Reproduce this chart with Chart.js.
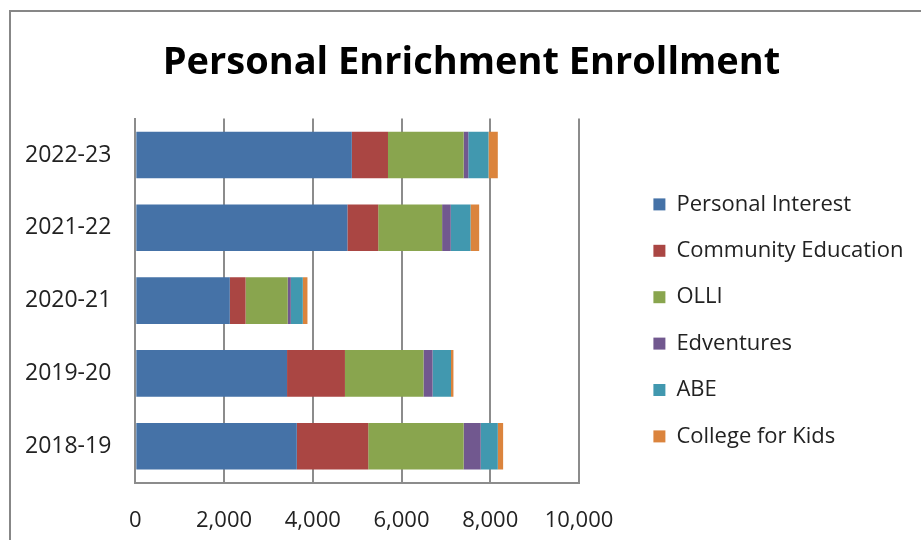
<!DOCTYPE html>
<html>
<head>
<meta charset="utf-8">
<script src="https://cdn.jsdelivr.net/npm/chart.js@4/dist/chart.umd.min.js"></script>
<style>
  html, body { margin: 0; padding: 0; background: #fff; }
  #wrap { position: relative; width: 921px; height: 540px; overflow: hidden; }
  #frame { position: absolute; left: 9px; top: 10px; width: 1000px; height: 1000px; border: 2px solid #878787; box-sizing: border-box; }
  #box { position: absolute; left: 0; top: 0; width: 921px; height: 540px; }
</style>
</head>
<body>
<div id="wrap">
  <div id="frame"></div>
  <div id="box"><canvas id="enrollChart"></canvas></div>
</div>
<script>
// Years, top to bottom as in the picture
var years = ['2022-23', '2021-22', '2020-21', '2019-20', '2018-19'];

// Enrollment per program (same order as years)
var personalInterest   = [4880, 4780, 2130, 3420, 3640];
var communityEducation = [815, 695, 355, 1305, 1610];
var olli               = [1705, 1440, 950, 1770, 2150];
var edventures         = [105, 195, 70, 205, 385];
var abe                = [455, 445, 270, 415, 385];
var collegeForKids     = [210, 195, 105, 55, 120];

var xTicks = [0, 2000, 4000, 6000, 8000, 10000];

var font = 'Open Sans';

// fixed legend column on the right, like the Excel original
var legendBox = {
  id: 'legendBox',
  beforeInit: function(chart) {
    var lg = chart.legend;
    var fit = lg.fit;
    lg.fit = function() {
      fit.call(this);
      this.width = 363;
    };
  },
  afterLayout: function(chart) {
    var lg = chart.legend;
    var h = lg.height;
    lg.left = 629;
    lg.right = lg.left + lg.width;
    lg.top = 169;
    lg.bottom = lg.top + h;
  }
};

var ctx = document.getElementById('enrollChart').getContext('2d');
var enrollChart = new Chart(ctx, {
  type: 'bar',
  data: {
    labels: years,
    datasets: [
      { label: 'Personal Interest', data: personalInterest, backgroundColor: '#4572A7' },
      { label: 'Community Education', data: communityEducation, backgroundColor: '#AA4643' },
      { label: 'OLLI', data: olli, backgroundColor: '#89A54E' },
      { label: 'Edventures', data: edventures, backgroundColor: '#71588F' },
      { label: 'ABE', data: abe, backgroundColor: '#4198AF' },
      { label: 'College for Kids', data: collegeForKids, backgroundColor: '#DB843D' }
    ]
  },
  options: {
    indexAxis: 'y',
    responsive: true,
    maintainAspectRatio: false,
    animation: false,
    locale: 'en-US',
    datasets: {
      bar: { categoryPercentage: 1, barPercentage: 0.64 }
    },
    layout: {
      padding: { left: 1, right: -21, top: 14, bottom: -19 }
    },
    plugins: {
      title: {
        display: true,
        text: 'Personal Enrichment Enrollment',
        color: '#000',
        font: { family: font, size: 38, weight: 'bold' },
        padding: { top: 26, bottom: 33 }
      },
      legend: {
        position: 'right',
        align: 'start',
        labels: {
          color: '#222',
          font: { family: font, size: 22 },
          boxWidth: 12,
          boxHeight: 12,
          padding: 24.4
        }
      },
      tooltip: { enabled: false }
    },
    scales: {
      x: {
        stacked: true,
        min: 0,
        max: 10000,
        afterBuildTicks: function(axis) {
          axis.ticks = xTicks.map(function(v) { return { value: v }; });
        },
        grid: { color: '#8c8c8c', lineWidth: 2, drawTicks: false },
        border: { color: '#8c8c8c', width: 2 },
        ticks: {
          color: '#222',
          font: { family: font, size: 22 },
          padding: 25,
          maxRotation: 0
        }
      },
      y: {
        stacked: true,
        grid: { display: false, drawTicks: false },
        border: { color: '#8c8c8c', width: 2 },
        ticks: {
          color: '#222',
          font: { family: font, size: 23 },
          padding: 24
        }
      }
    }
  },
  plugins: [legendBox]
});
</script>
</body>
</html>
